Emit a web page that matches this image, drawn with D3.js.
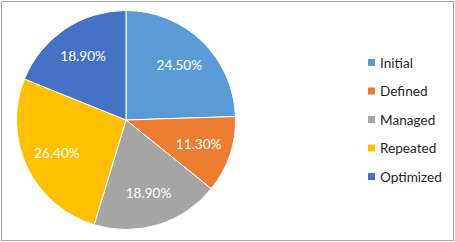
<!DOCTYPE html>
<html>
<head>
<meta charset="utf-8">
<script src="https://cdn.jsdelivr.net/npm/d3@7"></script>
<style>
  body { margin: 0; background: #fff; }
  svg { display: block; font-family: Lato, "Open Sans", sans-serif; }
</style>
</head>
<body>
<svg width="455" height="242"></svg>
<script>
// chart data
var categories = ["Initial", "Defined", "Managed", "Repeated", "Optimized"];
var values = [24.5, 11.3, 18.9, 26.4, 18.9];
var colors = ["#5B9BD5", "#ED7D31", "#A5A5A5", "#FFC000", "#4472C4"];

var svg = d3.select("svg"),
    width = +svg.attr("width"),
    height = +svg.attr("height");

// outer frame
svg.append("rect")
    .attr("x", 1.5).attr("y", 1.5)
    .attr("width", width - 3).attr("height", height - 3)
    .attr("fill", "#fff")
    .attr("stroke", "#a6a6a6")
    .attr("stroke-width", 1);

var cx = 126, cy = 120, r = 109.5;

var color = d3.scaleOrdinal().domain(categories).range(colors);

var pie = d3.pie().sort(null).value((d, i) => values[i]);
var arcs = pie(categories);

var arc = d3.arc().innerRadius(0).outerRadius(r);
var labelArc = d3.arc().innerRadius(r * 0.7).outerRadius(r * 0.7);

var g = svg.append("g")
    .attr("transform", "translate(" + cx + "," + cy + ")");

g.selectAll(".slice")
    .data(arcs)
    .enter().append("path")
    .attr("class", "slice")
    .attr("d", arc)
    .attr("fill", (d) => color(d.data))
    .attr("stroke", "#fff")
    .attr("stroke-width", 1);

// percentage labels
g.selectAll(".label")
    .data(arcs)
    .enter().append("text")
    .attr("class", "label")
    .attr("transform", (d) => "translate(" + labelArc.centroid(d) + ")")
    .attr("text-anchor", "middle")
    .attr("dy", "0.35em")
    .attr("fill", "#fff")
    .attr("font-size", 13.6)
    .text((d, i) => values[i].toFixed(2) + "%");

// legend
var legendY = d3.scalePoint().domain(categories).range([63, 177]);

var legend = svg.append("g").attr("class", "legend");

var item = legend.selectAll(".item")
    .data(categories)
    .enter().append("g")
    .attr("class", "item")
    .attr("transform", (d) => "translate(368," + legendY(d) + ")");

item.append("rect")
    .attr("x", 0).attr("y", -4)
    .attr("width", 7).attr("height", 7)
    .attr("fill", (d) => color(d));

item.append("text")
    .attr("x", 12)
    .attr("dy", "0.35em")
    .attr("fill", "#262626")
    .attr("font-size", 13.6)
    .text((d) => d);
</script>
</body>
</html>
